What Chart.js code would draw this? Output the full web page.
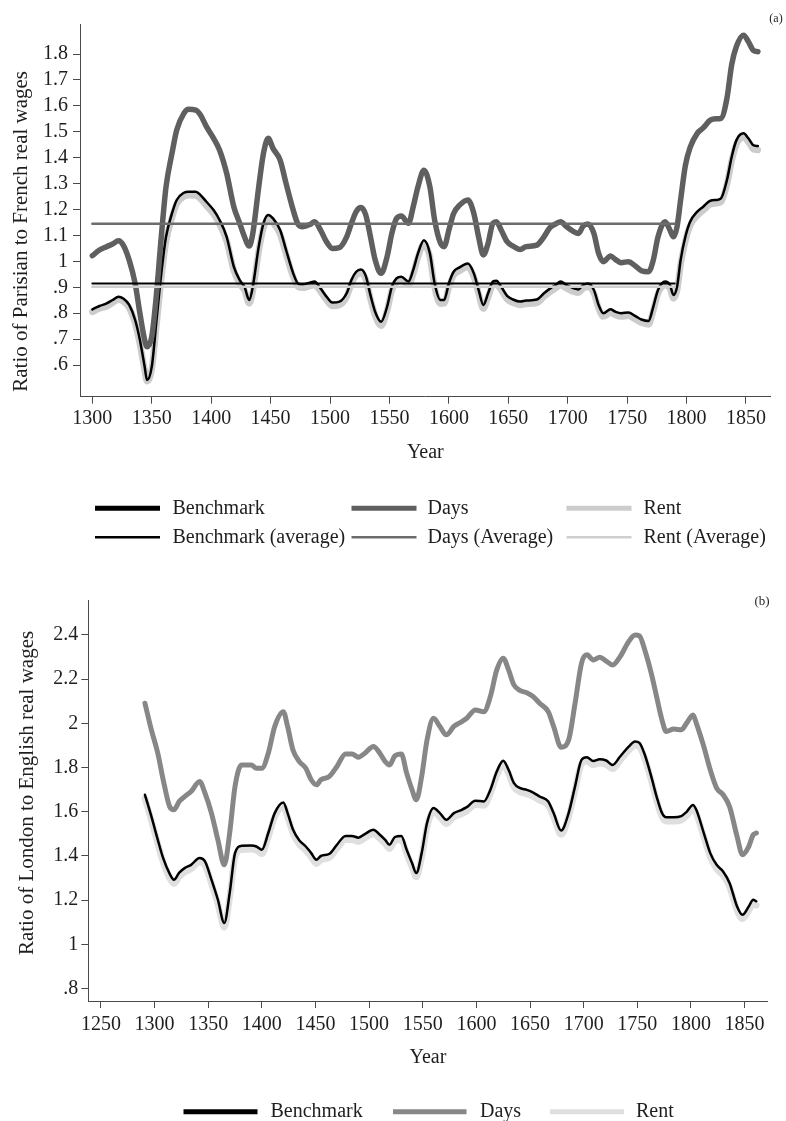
<!DOCTYPE html>
<html>
<head>
<meta charset="utf-8">
<title>Real wage ratios</title>
<script src="https://cdn.jsdelivr.net/npm/chart.js@4.4.1/dist/chart.umd.min.js"></script>
<style>
  body { margin: 0; background: #fff; }
  #wrap { position: relative; width: 786px; height: 1121px; overflow: hidden; }
  canvas { position: absolute; left: 0; }
</style>
</head>
<body>
<div id="wrap">
  <canvas id="chartA" width="786" height="565" style="top:0"></canvas>
  <canvas id="chartB" width="786" height="556" style="top:565px"></canvas>
</div>
<script>
// ---- panel (a): Paris vs France ----
var yearsA = [1300, 1306, 1312, 1317, 1322, 1326, 1331, 1336, 1340, 1344, 1346, 1350, 1354, 1358, 1362, 1367, 1371, 1377, 1381, 1387,
  1391, 1396, 1402, 1407, 1413, 1419, 1424, 1428, 1432, 1435, 1440, 1444, 1448, 1452, 1458, 1463, 1469, 1473, 1477, 1483,
  1487, 1492, 1497, 1502, 1508, 1514, 1518, 1522, 1526, 1530, 1534, 1538, 1543, 1548, 1552, 1556, 1560, 1566, 1570, 1574,
  1579, 1584, 1588, 1593, 1596, 1600, 1604, 1609, 1616, 1621, 1625, 1629, 1633, 1637, 1640, 1644, 1649, 1654, 1660, 1665,
  1674, 1680, 1685, 1690, 1694, 1699, 1705, 1709, 1713, 1717, 1722, 1726, 1730, 1736, 1740, 1745, 1751, 1757, 1762, 1768,
  1772, 1776, 1782, 1786, 1789, 1792, 1795, 1799, 1803, 1809, 1814, 1820, 1825, 1829, 1834, 1838, 1842, 1848, 1852, 1856, 1860];

var benchmarkA = [0.815, 0.828, 0.838, 0.851, 0.864, 0.857, 0.832, 0.774, 0.697, 0.594, 0.542, 0.594, 0.774, 0.954, 1.095, 1.185, 1.237, 1.265, 1.269, 1.269,
  1.256, 1.230, 1.198, 1.160, 1.095, 0.980, 0.928, 0.902, 0.851, 0.902, 1.057, 1.147, 1.179, 1.166, 1.121, 1.044, 0.954, 0.915, 0.911, 0.918,
  0.922, 0.896, 0.864, 0.841, 0.845, 0.877, 0.928, 0.960, 0.969, 0.945, 0.870, 0.805, 0.767, 0.825, 0.902, 0.935, 0.941, 0.922, 0.967, 1.031,
  1.082, 1.031, 0.915, 0.851, 0.851, 0.915, 0.960, 0.977, 0.992, 0.954, 0.890, 0.832, 0.877, 0.922, 0.925, 0.902, 0.867, 0.853, 0.845, 0.849,
  0.853, 0.877, 0.895, 0.910, 0.922, 0.909, 0.896, 0.892, 0.909, 0.915, 0.890, 0.832, 0.800, 0.815, 0.806, 0.800, 0.803, 0.789, 0.776, 0.770,
  0.825, 0.890, 0.922, 0.909, 0.870, 0.902, 1.005, 1.095, 1.153, 1.192, 1.211, 1.234, 1.237, 1.243, 1.314, 1.404, 1.468, 1.494, 1.475, 1.449, 1.445];

var daysA = [1.022, 1.044, 1.057, 1.067, 1.080, 1.063, 1.005, 0.915, 0.800, 0.697, 0.671, 0.710, 0.877, 1.095, 1.288, 1.417, 1.507, 1.571, 1.587, 1.584,
  1.565, 1.520, 1.475, 1.430, 1.340, 1.211, 1.147, 1.095, 1.059, 1.108, 1.288, 1.417, 1.475, 1.436, 1.391, 1.301, 1.198, 1.144, 1.134, 1.142,
  1.153, 1.121, 1.076, 1.050, 1.054, 1.095, 1.147, 1.192, 1.208, 1.180, 1.095, 1.005, 0.954, 1.018, 1.108, 1.166, 1.175, 1.147, 1.211, 1.288,
  1.352, 1.288, 1.160, 1.070, 1.057, 1.121, 1.185, 1.217, 1.237, 1.185, 1.095, 1.025, 1.070, 1.147, 1.153, 1.121, 1.076, 1.059, 1.046, 1.057,
  1.063, 1.095, 1.130, 1.145, 1.153, 1.134, 1.115, 1.108, 1.136, 1.144, 1.108, 1.031, 0.999, 1.021, 1.008, 0.995, 0.999, 0.982, 0.964, 0.960,
  1.005, 1.095, 1.153, 1.121, 1.095, 1.134, 1.237, 1.370, 1.440, 1.494, 1.515, 1.545, 1.550, 1.552, 1.630, 1.760, 1.830, 1.873, 1.848, 1.815, 1.809];

var rentA = [0.805, 0.818, 0.826, 0.840, 0.852, 0.846, 0.820, 0.760, 0.680, 0.580, 0.538, 0.585, 0.755, 0.935, 1.075, 1.168, 1.222, 1.250, 1.255, 1.254,
  1.241, 1.214, 1.182, 1.143, 1.078, 0.965, 0.913, 0.888, 0.838, 0.885, 1.040, 1.130, 1.163, 1.150, 1.105, 1.028, 0.940, 0.902, 0.898, 0.905,
  0.909, 0.883, 0.851, 0.828, 0.832, 0.864, 0.914, 0.946, 0.955, 0.931, 0.856, 0.790, 0.752, 0.810, 0.888, 0.921, 0.928, 0.909, 0.952, 1.016,
  1.067, 1.016, 0.900, 0.837, 0.838, 0.900, 0.946, 0.963, 0.978, 0.940, 0.876, 0.818, 0.862, 0.908, 0.911, 0.889, 0.854, 0.840, 0.832, 0.836,
  0.840, 0.864, 0.882, 0.897, 0.908, 0.896, 0.883, 0.879, 0.896, 0.901, 0.877, 0.819, 0.787, 0.802, 0.793, 0.787, 0.790, 0.776, 0.763, 0.757,
  0.810, 0.876, 0.908, 0.896, 0.857, 0.887, 0.988, 1.078, 1.138, 1.177, 1.197, 1.220, 1.224, 1.229, 1.298, 1.388, 1.452, 1.479, 1.461, 1.434, 1.430];

// period averages, drawn as flat lines over the pre-1790 span
var avgYearsA = [1300, 1790];
var benchmarkAvgA = 0.915;
var daysAvgA = 1.145;
var rentAvgA = 0.902;

var xTicksA = [1300, 1350, 1400, 1450, 1500, 1550, 1600, 1650, 1700, 1750, 1800, 1850];
var yTicksA = [0.6, 0.7, 0.8, 0.9, 1, 1.1, 1.2, 1.3, 1.4, 1.5, 1.6, 1.7, 1.8];
var yLabelsA = ['.6', '.7', '.8', '.9', '1', '1.1', '1.2', '1.3', '1.4', '1.5', '1.6', '1.7', '1.8'];

// ---- panel (b): London vs England ----
var yearsB = [1291, 1297, 1303, 1308, 1314, 1318, 1323, 1328, 1334, 1342, 1347, 1353, 1359, 1365, 1370, 1375, 1381, 1390, 1395, 1400,
  1406, 1412, 1420, 1424, 1429, 1435, 1441, 1446, 1451, 1455, 1463, 1470, 1478, 1484, 1490, 1496, 1504, 1510, 1515, 1519,
  1524, 1530, 1535, 1540, 1544, 1549, 1554, 1560, 1566, 1572, 1579, 1585, 1591, 1599, 1607, 1613, 1619, 1625, 1630, 1635,
  1641, 1647, 1653, 1659, 1667, 1672, 1679, 1686, 1692, 1698, 1703, 1709, 1715, 1721, 1727, 1734, 1742, 1748, 1752, 1757,
  1763, 1768, 1773, 1777, 1784, 1791, 1796, 1802, 1805, 1812, 1818, 1824, 1830, 1836, 1843, 1848, 1854, 1858, 1861];

var benchmarkB = [1.677, 1.579, 1.473, 1.390, 1.320, 1.293, 1.325, 1.345, 1.360, 1.391, 1.376, 1.293, 1.202, 1.097, 1.232, 1.413, 1.446, 1.448, 1.443, 1.428,
  1.504, 1.594, 1.642, 1.594, 1.520, 1.470, 1.443, 1.413, 1.383, 1.400, 1.410, 1.451, 1.491, 1.491, 1.483, 1.499, 1.519, 1.496, 1.473, 1.451,
  1.486, 1.491, 1.428, 1.368, 1.323, 1.413, 1.549, 1.617, 1.594, 1.564, 1.594, 1.606, 1.621, 1.650, 1.647, 1.699, 1.782, 1.831, 1.790, 1.730,
  1.707, 1.699, 1.687, 1.669, 1.647, 1.594, 1.515, 1.594, 1.715, 1.835, 1.847, 1.830, 1.838, 1.832, 1.812, 1.850, 1.895, 1.918, 1.912, 1.858,
  1.760, 1.669, 1.595, 1.575, 1.575, 1.580, 1.600, 1.631, 1.609, 1.504, 1.413, 1.360, 1.330, 1.278, 1.172, 1.134, 1.172, 1.202, 1.195];

var daysB = [2.091, 1.971, 1.865, 1.745, 1.624, 1.609, 1.647, 1.669, 1.692, 1.737, 1.684, 1.594, 1.473, 1.360, 1.504, 1.715, 1.812, 1.812, 1.797, 1.797,
  1.865, 1.986, 2.053, 1.986, 1.880, 1.827, 1.797, 1.745, 1.722, 1.745, 1.760, 1.805, 1.862, 1.862, 1.847, 1.865, 1.895, 1.865, 1.827, 1.812,
  1.853, 1.862, 1.775, 1.700, 1.654, 1.760, 1.925, 2.023, 1.986, 1.948, 1.986, 2.004, 2.023, 2.061, 2.053, 2.121, 2.242, 2.295, 2.242, 2.174,
  2.148, 2.139, 2.121, 2.091, 2.053, 1.986, 1.892, 1.925, 2.091, 2.272, 2.310, 2.287, 2.299, 2.282, 2.264, 2.302, 2.370, 2.400, 2.396, 2.332,
  2.227, 2.121, 2.016, 1.963, 1.974, 1.971, 2.001, 2.038, 2.001, 1.895, 1.790, 1.707, 1.677, 1.624, 1.489, 1.406, 1.444, 1.496, 1.504];

var rentB = [1.660, 1.560, 1.455, 1.372, 1.300, 1.275, 1.306, 1.327, 1.342, 1.373, 1.358, 1.275, 1.183, 1.077, 1.212, 1.395, 1.428, 1.430, 1.425, 1.410,
  1.486, 1.576, 1.624, 1.576, 1.502, 1.452, 1.425, 1.395, 1.365, 1.382, 1.392, 1.433, 1.473, 1.473, 1.465, 1.481, 1.501, 1.478, 1.455, 1.433,
  1.468, 1.473, 1.410, 1.350, 1.305, 1.395, 1.531, 1.599, 1.576, 1.546, 1.576, 1.588, 1.603, 1.632, 1.629, 1.681, 1.764, 1.813, 1.772, 1.712,
  1.689, 1.681, 1.669, 1.651, 1.629, 1.576, 1.497, 1.576, 1.697, 1.817, 1.829, 1.812, 1.820, 1.814, 1.794, 1.832, 1.877, 1.900, 1.894, 1.840,
  1.742, 1.651, 1.577, 1.557, 1.557, 1.562, 1.582, 1.613, 1.591, 1.486, 1.395, 1.342, 1.312, 1.260, 1.154, 1.116, 1.154, 1.184, 1.177];

var xTicksB = [1250, 1300, 1350, 1400, 1450, 1500, 1550, 1600, 1650, 1700, 1750, 1800, 1850];
var yTicksB = [0.8, 1, 1.2, 1.4, 1.6, 1.8, 2, 2.2, 2.4];
var yLabelsB = ['.8', '1', '1.2', '1.4', '1.6', '1.8', '2', '2.2', '2.4'];

var SERIF = "'Liberation Serif', 'Times New Roman', Times, serif";
var AXIS_COLOR = '#4a4a4a';
var TEXT_COLOR = '#1e1e1e';

function toPoints(xs, ys) {
  return xs.map(function(x, i) { return { x: x, y: ys[i] }; });
}

function series(label, xs, ys, color, width, order) {
  return {
    label: label,
    data: toPoints(xs, ys),
    borderColor: color,
    backgroundColor: color,
    borderWidth: width,
    pointRadius: 0,
    cubicInterpolationMode: 'monotone',
    borderJoinStyle: 'round',
    borderCapStyle: 'round',
    fill: false,
    order: order
  };
}

// legend rows and the panel letter are painted after the chart itself
var panelDecor = {
  id: 'panelDecor',
  afterDraw: function(chart, args, opts) {
    var ctx = chart.ctx;
    ctx.save();
    ctx.fillStyle = TEXT_COLOR;
    ctx.textBaseline = 'middle';
    ctx.textAlign = 'center';
    ctx.font = opts.tagSize + 'px ' + SERIF;
    ctx.fillText(opts.tag, opts.tagX, opts.tagY);

    ctx.font = opts.fontSize + 'px ' + SERIF;
    ctx.textAlign = 'left';
    opts.items.forEach(function(item) {
      var ds = chart.data.datasets[item.index];
      ctx.strokeStyle = ds.borderColor;
      ctx.lineWidth = item.lw;
      ctx.lineCap = 'butt';
      ctx.beginPath();
      ctx.moveTo(item.x0, item.y);
      ctx.lineTo(item.x1, item.y);
      ctx.stroke();
      ctx.fillText(ds.label, item.tx, item.y);
    });
    ctx.restore();
  }
};

function axisX(min, max, ticks, height, titlePad, labelPad) {
  return {
    type: 'linear',
    min: min,
    max: max,
    afterBuildTicks: function(s) { s.ticks = ticks.map(function(v) { return { value: v }; }); },
    afterFit: function(s) { s.height = height; },
    grid: { drawOnChartArea: false, drawTicks: true, tickLength: 7, color: AXIS_COLOR, lineWidth: 1 },
    border: { display: true, color: AXIS_COLOR, width: 1 },
    ticks: {
      autoSkip: false, maxRotation: 0, padding: labelPad, color: TEXT_COLOR,
      font: { family: SERIF, size: 20 },
      callback: function(v) { return String(v); }
    },
    title: {
      display: true, text: 'Year', color: TEXT_COLOR,
      font: { family: SERIF, size: 20 },
      padding: { top: 0, bottom: titlePad }
    }
  };
}

function axisY(min, max, ticks, labels, width, title, titlePad, labelPad) {
  return {
    type: 'linear',
    min: min,
    max: max,
    afterBuildTicks: function(s) { s.ticks = ticks.map(function(v) { return { value: v }; }); },
    afterFit: function(s) { s.width = width; },
    grid: { drawOnChartArea: false, drawTicks: true, tickLength: 7, color: AXIS_COLOR, lineWidth: 1 },
    border: { display: true, color: AXIS_COLOR, width: 1 },
    ticks: {
      autoSkip: false, padding: labelPad, color: TEXT_COLOR,
      font: { family: SERIF, size: 20 },
      callback: function(v) { var i = ticks.indexOf(v); return i >= 0 ? labels[i] : ''; }
    },
    title: {
      display: true, text: title, color: TEXT_COLOR,
      font: { family: SERIF, size: 21 },
      padding: { top: titlePad, bottom: 0 }
    }
  };
}

Chart.defaults.font.family = SERIF;

new Chart(document.getElementById('chartA'), {
  type: 'line',
  data: {
    datasets: [
      series('Benchmark', yearsA, benchmarkA, '#000000', 2.5, 4),
      series('Days', yearsA, daysA, '#5f5f5f', 5.5, 3),
      series('Rent', yearsA, rentA, '#cccccc', 6.5, 5),
      series('Benchmark (average)', avgYearsA, [benchmarkAvgA, benchmarkAvgA], '#000000', 2, 1),
      series('Days (Average)', avgYearsA, [daysAvgA, daysAvgA], '#6c6c6c', 2.5, 1),
      series('Rent (Average)', avgYearsA, [rentAvgA, rentAvgA], '#cfcfcf', 2.5, 2)
    ]
  },
  options: {
    responsive: false,
    animation: false,
    devicePixelRatio: 1,
    layout: { padding: { left: 0, right: 15.3, top: 24, bottom: 0 } },
    scales: {
      x: axisX(1289.6, 1870.8, xTicksA, 168.3, 100, 3),
      y: axisY(0.478, 1.916, yTicksA, yLabelsA, 80,
        'Ratio of Parisian to French real wages\u00a0\u00a0\u00a0\u00a0\u00a0\u00a0\u00a0\u00a0', 8.4, 5)
    },
    plugins: {
      legend: { display: false },
      tooltip: { enabled: false },
      panelDecor: {
        tag: '(a)', tagX: 776, tagY: 19, tagSize: 12, fontSize: 20,
        items: [
          { index: 0, x0: 95, x1: 160, tx: 172.5, y: 508.3, lw: 5 },
          { index: 1, x0: 351.5, x1: 416.5, tx: 427.5, y: 508.3, lw: 5 },
          { index: 2, x0: 566.5, x1: 631.5, tx: 643.5, y: 508.3, lw: 5 },
          { index: 3, x0: 95, x1: 160, tx: 172.5, y: 537.3, lw: 2.5 },
          { index: 4, x0: 351.5, x1: 416.5, tx: 427.5, y: 537.3, lw: 2.5 },
          { index: 5, x0: 566.5, x1: 631.5, tx: 643.5, y: 537.3, lw: 2.5 }
        ]
      }
    }
  },
  plugins: [panelDecor]
});

new Chart(document.getElementById('chartB'), {
  type: 'line',
  data: {
    datasets: [
      series('Benchmark', yearsB, benchmarkB, '#000000', 2.5, 2),
      series('Days', yearsB, daysB, '#878787', 5, 1),
      series('Rent', yearsB, rentB, '#dfdfdf', 6.5, 3)
    ]
  },
  options: {
    responsive: false,
    animation: false,
    devicePixelRatio: 1,
    layout: { padding: { left: 0, right: 18.5, top: 35.7, bottom: 0 } },
    scales: {
      x: axisX(1238.2, 1871.4, xTicksB, 120, 51, 5),
      y: axisY(0.744, 2.555, yTicksB, yLabelsB, 88.3,
        '\u00a0\u00a0\u00a0Ratio of London to English real wages', 14.4, 3)
    },
    plugins: {
      legend: { display: false },
      tooltip: { enabled: false },
      panelDecor: {
        tag: '(b)', tagX: 762, tagY: 37, tagSize: 13, fontSize: 20,
        items: [
          { index: 0, x0: 183.5, x1: 257.5, tx: 270.5, y: 546.7, lw: 5 },
          { index: 1, x0: 393, x1: 466.5, tx: 480, y: 546.7, lw: 5 },
          { index: 2, x0: 550, x1: 624, tx: 636, y: 546.7, lw: 5 }
        ]
      }
    }
  },
  plugins: [panelDecor]
});
</script>
</body>
</html>
